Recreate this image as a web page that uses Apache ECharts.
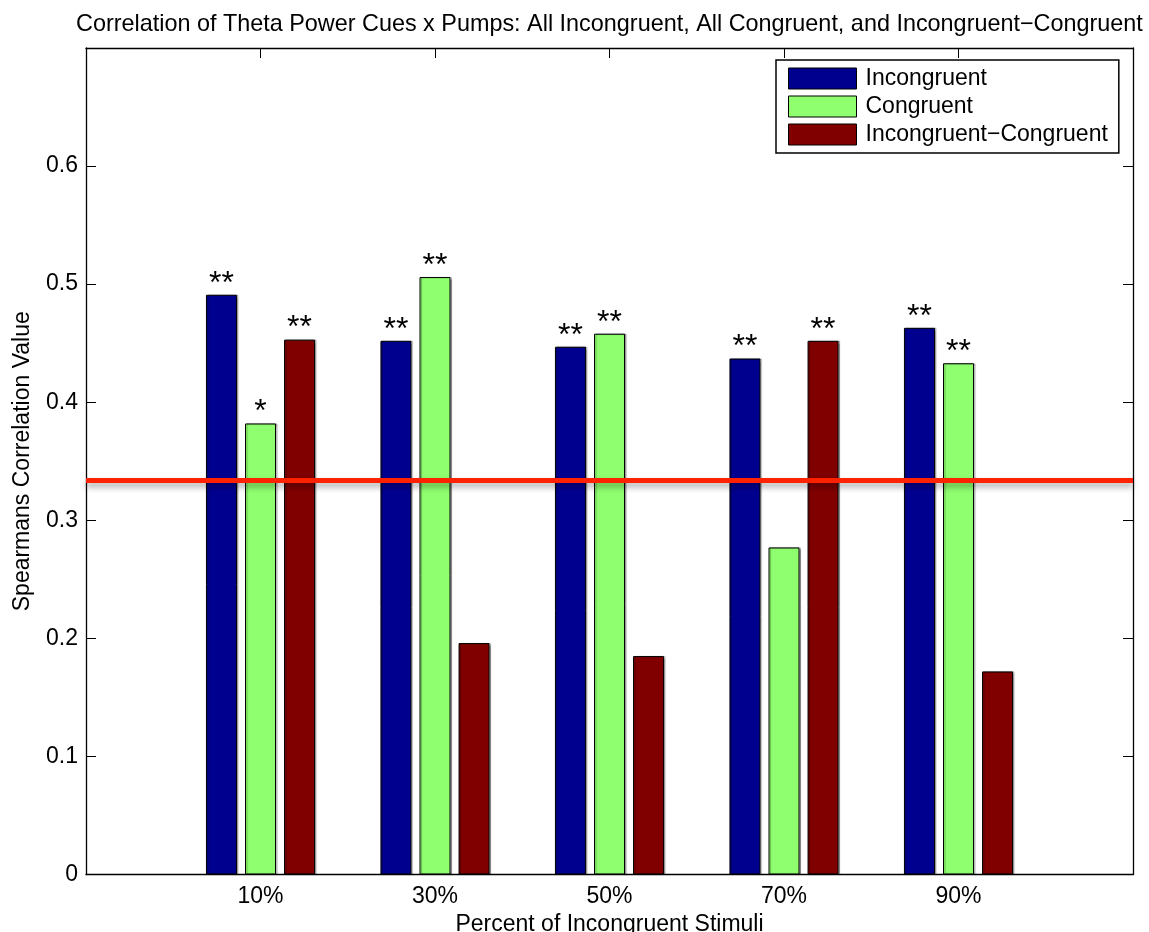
<!DOCTYPE html>
<html>
<head>
<meta charset="utf-8">
<script src="https://cdn.jsdelivr.net/npm/echarts@6/dist/echarts.min.js"></script>
<style>
  html, body { margin: 0; padding: 0; background: #fff; }
  #chart { width: 1149px; height: 932px; }
</style>
</head>
<body>
<div id="chart"></div>
<script>
// Percent of incongruent stimuli (blank slots pad the axis on both sides)
const categories = ['', '10%', '30%', '50%', '70%', '90%', ''];

// Spearman correlation values per condition
const incongruent = [0.491, 0.452, 0.447, 0.437, 0.463];
const congruent = [0.382, 0.506, 0.458, 0.277, 0.433];
const difference = [0.453, 0.196, 0.185, 0.452, 0.172];

// Significance markers shown above each bar
const incongruentStars = ['**', '**', '**', '**', '**'];
const congruentStars = ['*', '**', '**', '', '**'];
const differenceStars = ['**', '', '', '**', ''];

// Significance threshold line
const threshold = 0.334;

const yTicks = [0, 0.1, 0.2, 0.3, 0.4, 0.5, 0.6];

const FONT = '"Liberation Sans", Arial, Helvetica, sans-serif';

function padded(values) {
  return [null].concat(values, [null]);
}

function barSeries(name, values, stars, color) {
  return {
    name: name,
    type: 'bar',
    barWidth: 31,
    barGap: '26%',
    data: padded(values).map(function (v, i) {
      if (v === null) return null;
      return { value: v, label: { formatter: stars[i - 1] } };
    }),
    itemStyle: {
      color: color,
      borderColor: '#000',
      borderWidth: 1,
      shadowColor: 'rgba(0,0,0,0.3)',
      shadowBlur: 1,
      shadowOffsetX: 1.5
    },
    label: {
      show: true,
      position: 'top',
      distance: -5,
      fontFamily: FONT,
      fontSize: 32,
      color: '#000'
    },
    emphasis: { disabled: true }
  };
}

const chart = echarts.init(document.getElementById('chart'), null, { renderer: 'canvas' });

const axisLine = { show: true, onZero: false, lineStyle: { color: '#000', width: 1.3 } };
const tickInside = { show: true, inside: true, length: 10, lineStyle: { color: '#000', width: 1 } };

chart.setOption({
  animation: false,
  backgroundColor: '#fff',
  title: {
    text: 'Correlation of Theta Power Cues x Pumps: All Incongruent, All Congruent, and Incongruent\u2212Congruent',
    left: 71,
    top: 8,
    textStyle: { fontFamily: FONT, fontSize: 23.4, fontWeight: 'normal', color: '#000' }
  },
  legend: {
    orient: 'vertical',
    left: 776,
    top: 60,
    padding: [7, 11, 7, 12],
    itemWidth: 68,
    itemHeight: 21,
    itemGap: 5,
    icon: 'rect',
    backgroundColor: '#fff',
    borderColor: '#000',
    borderWidth: 1.5,
    borderRadius: 0,
    itemStyle: { borderColor: '#000', borderWidth: 1 },
    textStyle: { fontFamily: FONT, fontSize: 23, lineHeight: 21, color: '#000', padding: [0, 0, 0, 4] },
    data: ['Incongruent', 'Congruent', 'Incongruent\u2212Congruent']
  },
  grid: { left: 86, right: 16, top: 48, bottom: 57.5, containLabel: false, outerBoundsMode: 'none' },
  xAxis: [
    {
      type: 'category',
      data: categories,
      boundaryGap: false,
      position: 'bottom',
      axisLine: axisLine,
      axisTick: tickInside,
      axisLabel: { fontFamily: FONT, fontSize: 23, color: '#000', margin: 11 },
      name: 'Percent of Incongruent Stimuli',
      nameLocation: 'middle',
      nameGap: 33,
      nameTextStyle: { fontFamily: FONT, fontSize: 23, color: '#000' },
      splitLine: { show: false }
    },
    {
      type: 'category',
      data: categories,
      boundaryGap: false,
      position: 'top',
      axisLine: axisLine,
      axisTick: tickInside,
      axisLabel: { show: false },
      splitLine: { show: false }
    }
  ],
  yAxis: [
    {
      type: 'value',
      min: 0,
      max: 0.7,
      interval: 0.1,
      position: 'left',
      axisLine: axisLine,
      axisTick: tickInside,
      axisLabel: {
        fontFamily: FONT,
        fontSize: 23,
        color: '#000',
        margin: 8,
        formatter: function (v) {
          const hit = yTicks.find(function (t) { return Math.abs(t - v) < 1e-9; });
          return hit === undefined ? '' : String(hit);
        }
      },
      name: 'Spearmans Correlation Value',
      nameLocation: 'middle',
      nameGap: 52,
      nameRotate: 90,
      nameTextStyle: { fontFamily: FONT, fontSize: 23, color: '#000' },
      splitLine: { show: false }
    },
    {
      type: 'value',
      min: 0,
      max: 0.7,
      interval: 0.1,
      position: 'right',
      axisLine: axisLine,
      axisTick: tickInside,
      axisLabel: { show: false },
      splitLine: { show: false }
    }
  ],
  series: [
    barSeries('Incongruent', incongruent, incongruentStars, '#00008F'),
    barSeries('Congruent', congruent, congruentStars, '#8FFF70'),
    Object.assign(barSeries('Incongruent\u2212Congruent', difference, differenceStars, '#800000'), {
      markLine: {
        silent: true,
        symbol: 'none',
        precision: 4,
        label: { show: false },
        lineStyle: {
          type: 'solid',
          color: '#FF2200',
          width: 5,
          shadowColor: 'rgba(0,0,0,0.35)',
          shadowBlur: 6,
          shadowOffsetY: 4
        },
        data: [{ yAxis: threshold }]
      }
    })
  ]
});
</script>
</body>
</html>
